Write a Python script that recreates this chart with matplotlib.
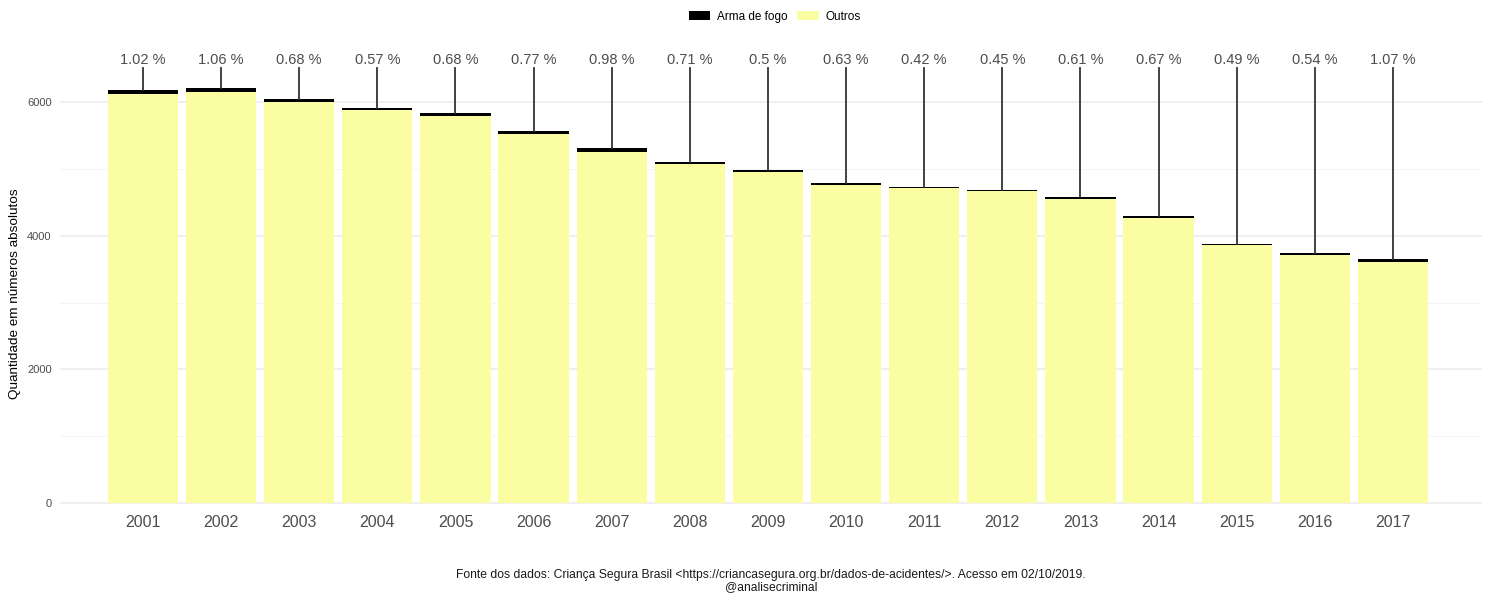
import matplotlib
matplotlib.use("Agg")
import matplotlib.pyplot as plt
from matplotlib.patches import Patch
import numpy as np

plt.rcParams['font.family'] = ['Liberation Sans', 'DejaVu Sans']

anos = ["2001", "2002", "2003", "2004", "2005", "2006", "2007", "2008", "2009",
        "2010", "2011", "2012", "2013", "2014", "2015", "2016", "2017"]
total = [6180, 6210, 6045, 5910, 5836, 5566, 5312, 5103, 4983,
         4788, 4728, 4684, 4575, 4300, 3876, 3736, 3645]
percentual = [1.02, 1.06, 0.68, 0.57, 0.68, 0.77, 0.98, 0.71, 0.5,
              0.63, 0.42, 0.45, 0.61, 0.67, 0.49, 0.54, 1.07]
rotulos = ["1.02 %", "1.06 %", "0.68 %", "0.57 %", "0.68 %", "0.77 %", "0.98 %", "0.71 %", "0.5 %",
           "0.63 %", "0.42 %", "0.45 %", "0.61 %", "0.67 %", "0.49 %", "0.54 %", "1.07 %"]

total = np.array(total, dtype=float)
arma = total * np.array(percentual) / 100.0
outros = total - arma

COR_OUTROS = "#FAFDA2"
COR_ARMA = "#000000"
LABEL_Y = 6629
LINE_TOP = 6515

fig = plt.figure(figsize=(14.94, 5.94), dpi=100)
W, H = 1494, 594
ax = fig.add_axes([60 / W, 1 - 513.0 / H, (1482 - 60) / W, (513.0 - 37.9) / H])

x = np.arange(len(anos))
ax.set_xlim(-1.062, 17.14)
ax.set_ylim(-150, 6960)

# grid
for v in [1000, 3000, 5000]:
    ax.axhline(v, color="#F2F2F2", lw=0.6, zorder=0)
for v in [0, 2000, 4000, 6000]:
    ax.axhline(v, color="#EBEBEB", lw=1.1, zorder=0)

ax.bar(x, outros, width=0.9, color=COR_OUTROS, zorder=2)
ax.bar(x, arma, width=0.9, bottom=outros, color=COR_ARMA, zorder=2)

for xi, t, lab in zip(x, total, rotulos):
    ax.plot([xi, xi], [t, LINE_TOP], color="#333333", lw=1.3, zorder=3)
    ax.text(xi, LABEL_Y, lab, ha="center", va="center", fontsize=10.5, color="#4D4D4D")

ax.set_xticks(x)
ax.set_xticklabels(anos, fontsize=11.5, color="#4D4D4D")
ax.set_yticks([0, 2000, 4000, 6000])
ax.set_yticklabels(["0", "2000", "4000", "6000"], fontsize=8, color="#4D4D4D")
ax.tick_params(axis="both", length=0)
ax.tick_params(axis="x", pad=1.5)
ax.tick_params(axis="y", pad=6)
for s in ax.spines.values():
    s.set_visible(False)

fig.text(15 / W, 1 - 294 / H, "Quantidade em números absolutos", rotation=90,
         ha="center", va="center", fontsize=9.7, color="#000000")

handles = [Patch(facecolor=COR_ARMA, label="Arma de fogo"),
           Patch(facecolor=COR_OUTROS, label="Outros")]
fig.legend(handles=handles, loc="center", bbox_to_anchor=(775 / W, 1 - 17 / H), ncol=2,
           frameon=False, fontsize=8.5, handlelength=1.8, handleheight=0.8,
           handletextpad=0.6, columnspacing=0.8)

fig.text(771 / W, 1 - 575 / H,
         "Fonte dos dados: Criança Segura Brasil <https://criancasegura.org.br/dados-de-acidentes/>. Acesso em 02/10/2019.",
         ha="center", va="center", fontsize=8.7, color="#1A1A1A")
fig.text(771 / W, 1 - 587 / H, "@analisecriminal", ha="center", va="center",
         fontsize=8.7, color="#1A1A1A")

fig.savefig("out.png", dpi=100)
